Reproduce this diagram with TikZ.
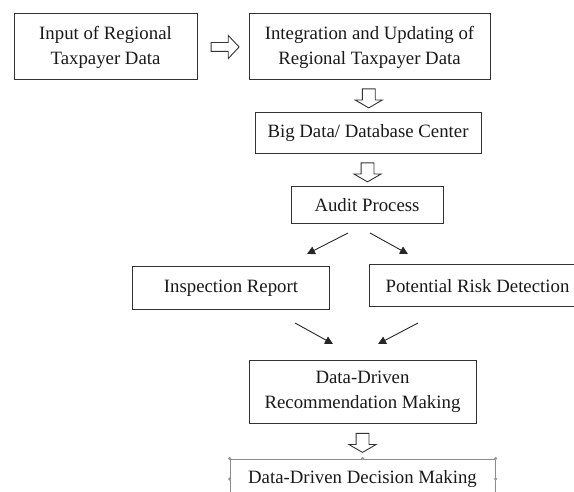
\documentclass[tikz,border=0pt]{standalone}
\usepackage{fontspec}
\setmainfont{Liberation Serif}
\usetikzlibrary{shapes.arrows, arrows.meta, calc}

\begin{document}
\begin{tikzpicture}[
		x=1pt, y=-1pt,
		font=\fontsize{18.8}{25}\selectfont,
		box/.style = {draw=black!80, line width=1pt, align=center, inner sep=0pt, text=black!90},
		hollow/.style = {single arrow, draw=black!80, line width=0.9pt, inner xsep=0pt, inner ysep=6pt,
				minimum width=24pt, minimum height=19pt, single arrow tip angle=120, rotate=-90},
		tri/.style = {-{Triangle[length=8pt, width=8pt]}, draw=black!85, line width=0.9pt},
		handle/.style = {circle, fill=black!40, inner sep=0pt, minimum size=3.5pt},
	]
	\path[use as bounding box] (0,0) rectangle (574,492);
	\clip (0,0) rectangle (574,492);

	\node[box, minimum width=183pt, minimum height=66pt] (input) at (105.5,47) {Input of Regional\\Taxpayer Data};
	\node[box, minimum width=241pt, minimum height=66pt] (integ) at (369.5,47) {Integration and Updating of\\Regional Taxpayer Data};
	\node[box, minimum width=226pt, minimum height=41pt] (bigdata) at (368,133.5) {Big Data/ Database Center};
	\node[box, minimum width=152pt, minimum height=37pt] (audit) at (367,205.5) {Audit Process};
	\node[box, minimum width=197.5pt, minimum height=43pt] (inspect) at (231,288.5) {Inspection Report};
	\node[box, minimum width=217pt, minimum height=42pt] (risk) at (477.5,286) {Potential Risk Detection};
	\node[box, minimum width=227pt, minimum height=62pt] (recom) at (362.5,392) {Data-Driven\\Recommendation Making};
	\node[box, draw=black!45, minimum width=265pt, minimum height=40pt] (decision) at (362.5,479) {Data-Driven Decision Making};

	\foreach \a/\n in {north west/1, north/2, north east/3, west/4, east/5}
		\node[handle] (hd\n) at (decision.\a) {};

	\node[hollow, rotate=90, inner ysep=4pt, minimum width=15pt, minimum height=28pt, single arrow tip angle=94] (a1) at ($(input.east)!0.5!(integ.west)$) {};
	\node[hollow] (a2) at ($(integ.south)!0.5!(bigdata.north)$) {};
	\node[hollow] (a3) at ($(bigdata.south)!0.5!(audit.north)$) {};
	\node[hollow] (a4) at ($(recom.south)!0.5!(decision.north)$) {};

	\coordinate (s1) at (348,233);
	\coordinate (t1) at (307,254);
	\coordinate (s2) at (370,233);
	\coordinate (t2) at (408,254);
	\coordinate (s3) at (295,323);
	\coordinate (t3) at (333,344);
	\coordinate (s4) at (418,323);
	\coordinate (t4) at (378,344);
	\draw[tri] (s1) -- (t1);
	\draw[tri] (s2) -- (t2);
	\draw[tri] (s3) -- (t3);
	\draw[tri] (s4) -- (t4);
\end{tikzpicture}
\end{document}
